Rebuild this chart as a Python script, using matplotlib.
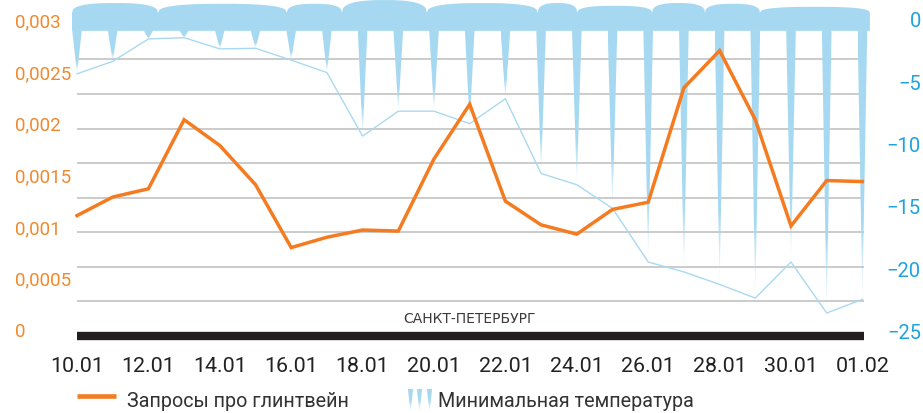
import numpy as np
import matplotlib
matplotlib.use("Agg")
import matplotlib.pyplot as plt
from matplotlib.patches import Polygon
from matplotlib.lines import Line2D

# ---------------- data ----------------
dates = ["10.01", "11.01", "12.01", "13.01", "14.01", "15.01", "16.01", "17.01",
         "18.01", "19.01", "20.01", "21.01", "22.01", "23.01", "24.01", "25.01",
         "26.01", "27.01", "28.01", "29.01", "30.01", "31.01", "01.02"]
queries = [0.00110, 0.00128, 0.00136, 0.00203, 0.00178, 0.00140, 0.00079, 0.00089,
           0.00096, 0.00095, 0.00165, 0.00218, 0.00124, 0.00101, 0.00092, 0.00116,
           0.00123, 0.00234, 0.00270, 0.00203, 0.00100, 0.00144, 0.00143]
temps = [-4.4, -3.4, -1.6, -1.5, -2.4, -2.35, -3.3, -4.3, -9.4, -7.4, -7.4, -8.4,
         -6.4, -12.4, -13.3, -15.2, -19.5, -20.3, -21.3, -22.4, -19.5, -23.6, -22.5]
xtick_labels = ["10.01", "12.01", "14.01", "16.01", "18.01", "20.01",
                "22.01", "24.01", "26.01", "28.01", "30.01", "01.02"]
left_ticks = [0, 0.0005, 0.001, 0.0015, 0.002, 0.0025, 0.003]
left_labels = ["0", "0,0005", "0,001", "0,0015", "0,002", "0,0025", "0,003"]
right_ticks = [0, -5, -10, -15, -20, -25]
right_labels = ["0", "\u22125", "\u221210", "\u221215", "\u221220", "\u221225"]
city = "САНКТ-ПЕТЕРБУРГ"
legend_q = "Запросы про глинтвейн"
legend_t = "Минимальная температура"

# decorative snow band (day units / temperature-axis units)
band_edges = [-0.14, 2.27, 5.88, 7.42, 9.80, 12.91, 14.01, 16.11, 17.59, 19.13, 22.21]
band_peaks = [1.28, 1.22, 1.22, 1.52, 1.28, 1.28, 1.06, 1.28, 1.22, 0.98]
band_dip = 0.50
band_bottom = -0.95

# ---------------- style ----------------
ORANGE = "#f47b20"
ORANGE_TXT = "#f08a2e"
ICE = "#a6d9f1"
ICE_LINE = "#a9d9f1"
BLUE_TXT = "#1ea3dc"
GRID = "#c2c2c2"
DARK = "#231f20"
TXT = "#333333"

W, H = 923, 414
fig = plt.figure(figsize=(W / 100, H / 100), dpi=100)

x = np.arange(len(dates))
xlim = (-0.2, 22.2)
L = 77 - 0.2 * 35.70
R = 77 + 22.2 * 35.70
rect = [L / W, (H - 350) / H, (R - L) / W, 350 / H]

ax_g = fig.add_axes(rect, label="grid")
ax_t = fig.add_axes(rect, label="temp")
ax_q = fig.add_axes(rect, label="query")

for a in (ax_g, ax_t, ax_q):
    for s in a.spines.values():
        s.set_visible(False)
    a.set_xlim(*xlim)
    a.tick_params(length=0)
ax_t.patch.set_visible(False)
ax_q.patch.set_visible(False)

# grid axes
ax_g.set_ylim(-0.376, 9.748)
ax_g.hlines(np.arange(1, 9), 0, 22.04, color=GRID, lw=1.2, zorder=1)
ax_g.hlines(0, 0, 22.04, color=DARK, lw=6, zorder=2, capstyle="butt")
ax_g.set_yticks([])
ax_g.set_xticks(x[::2])
ax_g.set_xticklabels(xtick_labels, family=["Liberation Sans Narrow", "Roboto"],
                     fontsize=15.4, color="#222222")
ax_g.tick_params(axis="x", pad=5)
ax_g.text(11, 0.40, city, ha="center", va="baseline", fontsize=10,
          color="#3a3a3a", family=["DejaVu Sans"])

# temperature axes
ax_t.set_ylim(-26.485, 1.605)
ax_t.set_xticks([])
ax_t.yaxis.tick_right()
ax_t.set_yticks(right_ticks)
ax_t.set_yticklabels(right_labels, family=["Roboto", "DejaVu Sans"],
                     fontsize=14.5, color=BLUE_TXT)
for lab in ax_t.get_yticklabels():
    lab.set_horizontalalignment("right")
ax_t.tick_params(axis="y", pad=37)

# snow band top
bx, by = [], []
p = 2.6
for i in range(len(band_peaks)):
    a0, a1 = band_edges[i], band_edges[i + 1]
    t = np.linspace(-1, 1, 80)
    xs = (a0 + a1) / 2 + t * (a1 - a0) / 2
    ys = band_dip + (band_peaks[i] - band_dip) * (1 - np.abs(t) ** p) ** (1 / p)
    bx.extend(xs)
    by.extend(ys)
bx = [band_edges[0]] + bx + [band_edges[-1]]
by = [band_bottom] + by + [band_bottom]
ax_t.add_patch(Polygon(np.column_stack([bx, by]), closed=True, fc=ICE, ec="none", zorder=3))


def grad_icicle(ax, xc, top, tip, hw, zorder=3, fade=0.28):
    n = 256
    s = np.linspace(0, 1, n)
    alpha = np.clip((1 - s) / fade, 0, 1)
    rgba = np.zeros((n, 1, 4))
    c = matplotlib.colors.to_rgb(ICE)
    rgba[..., 0], rgba[..., 1], rgba[..., 2] = c
    rgba[:, 0, 3] = alpha
    poly = Polygon([(xc - hw, top), (xc + hw, top), (xc, tip)], closed=True,
                   fc="none", ec="none", transform=ax.transData)
    ax.add_patch(poly)
    im = ax.imshow(rgba, extent=[xc - hw, xc + hw, tip, top], origin="upper",
                   aspect="auto", interpolation="bilinear", zorder=zorder)
    im.set_clip_path(poly)


for xi, ti in zip(x, temps):
    grad_icicle(ax_t, xi, band_bottom + 0.05, ti, 0.135)

ax_t.plot(x, temps, color=ICE_LINE, lw=1.0, zorder=4)
ax_t.set_xlim(*xlim)
ax_t.set_ylim(-26.485, 1.605)

# query axes
ax_q.set_ylim(-0.000194, 0.003201)
ax_q.set_xticks([])
ax_q.set_yticks(left_ticks)
ax_q.set_yticklabels(left_labels, family=["Roboto", "DejaVu Sans"],
                     fontsize=13.5, color=ORANGE_TXT)
for lab in ax_q.get_yticklabels():
    lab.set_horizontalalignment("left")
ax_q.tick_params(axis="y", pad=(L - 15) * 0.72)
ax_q.plot(x, queries, color=ORANGE, lw=2.5, zorder=5, solid_joinstyle="miter")

# legend
fig.add_artist(Line2D([77 / W, 116 / W], [1 - 397 / H] * 2, color=ORANGE, lw=3.3,
                      solid_capstyle="butt"))
fig.text(127 / W, 1 - 407.5 / H, legend_q, fontsize=14.2, color=TXT,
         family=["Roboto", "DejaVu Sans"], va="baseline")
fig.text(438 / W, 1 - 407.5 / H, legend_t, fontsize=14.2, color=TXT,
         family=["Roboto", "DejaVu Sans"], va="baseline")

ax_l = fig.add_axes([404 / W, 1 - 414 / H, 32 / W, 26 / H])
ax_l.set_xlim(404, 436)
ax_l.set_ylim(414, 388)
ax_l.axis("off")
for xc in (410.5, 419.5, 429.5):
    grad_icicle(ax_l, xc, 390, 413, 2.6, fade=0.5)
ax_l.set_xlim(404, 436)
ax_l.set_ylim(414, 388)

fig.savefig("out.png", dpi=100)
